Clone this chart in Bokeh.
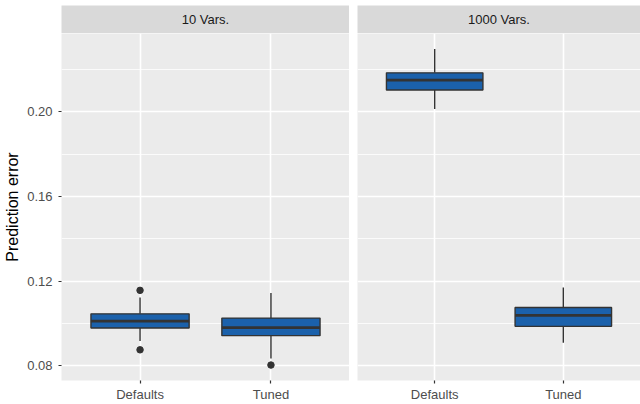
from bokeh.plotting import figure
from bokeh.models import FactorRange, Range1d, FixedTicker, PrintfTickFormatter, ColumnDataSource
from bokeh.transform import dodge
from bokeh.layouts import column, row
from bokeh.embed import file_html
from bokeh.resources import INLINE
from bokeh.core.properties import value

# ---------------- data ----------------
panels = ["10 Vars.", "1000 Vars."]
categories = ["Defaults", "Tuned"]

vars10_low = [0.0917, 0.0834]
vars10_q1 = [0.0978, 0.0942]
vars10_median = [0.1011, 0.0980]
vars10_q3 = [0.1045, 0.1025]
vars10_high = [0.1122, 0.1144]
vars10_out_cat = ["Defaults", "Defaults", "Tuned"]
vars10_out_val = [0.1156, 0.0875, 0.0803]

vars1000_low = [0.2013, 0.0909]
vars1000_q1 = [0.2103, 0.0986]
vars1000_median = [0.2150, 0.1038]
vars1000_q3 = [0.2184, 0.1075]
vars1000_high = [0.2297, 0.1169]
vars1000_out_cat = []
vars1000_out_val = []

y_ticks = [0.08, 0.12, 0.16, 0.20]
y_minor = [0.10, 0.14, 0.18, 0.22]

# ---------------- style ----------------
FONT = "Liberation Sans"
PANEL_BG = "#EBEBEB"
STRIP_BG = "#D9D9D9"
BOX_FILL = "#1B61AB"
DARK = "#333333"
BOX_W = 0.75

y_range = Range1d(0.073, 0.237)

STRIP_TOP = 5
STRIP_H = 28
PLOT_AREA_H = 350
BOTTOM_B = 21


def make_panel(low, q1, med, q3, high, out_cat, out_val, left_border, panel_w, show_y):
    x_range = FactorRange(*categories, range_padding=0.1)
    p = figure(x_range=x_range, y_range=y_range, width=left_border + panel_w,
               height=PLOT_AREA_H + BOTTOM_B,
               output_backend="svg", toolbar_location=None,
               min_border_left=left_border, min_border_right=0,
               min_border_top=0, min_border_bottom=BOTTOM_B)
    p.background_fill_color = PANEL_BG
    p.border_fill_color = "white"
    p.outline_line_color = None

    src = ColumnDataSource(dict(cat=categories, low=low, q1=q1, med=med, q3=q3, high=high))
    # whiskers
    p.segment(x0="cat", x1="cat", y0="q3", y1="high", source=src, line_color=DARK, line_width=1.4)
    p.segment(x0="cat", x1="cat", y0="low", y1="q1", source=src, line_color=DARK, line_width=1.4)
    # boxes
    p.vbar(x="cat", width=BOX_W, bottom="q1", top="q3", source=src,
           fill_color=BOX_FILL, line_color=DARK, line_width=1.4)
    # medians
    p.segment(x0=dodge("cat", -BOX_W / 2, range=x_range), x1=dodge("cat", BOX_W / 2, range=x_range),
              y0="med", y1="med", source=src, line_color=DARK, line_width=2.8)
    # outliers
    if out_cat:
        osrc = ColumnDataSource(dict(cat=out_cat, val=out_val))
        p.scatter(x="cat", y="val", source=osrc, size=6.5, fill_color=DARK, line_color=DARK)

    # grids
    p.ygrid.ticker = FixedTicker(ticks=y_ticks, minor_ticks=y_minor)
    p.ygrid.grid_line_color = "white"
    p.ygrid.grid_line_width = 1.6
    p.ygrid.minor_grid_line_color = "white"
    p.ygrid.minor_grid_line_width = 0.8
    p.xgrid.grid_line_color = "white"
    p.xgrid.grid_line_width = 1.6

    # axes
    p.xaxis.axis_line_color = None
    p.xaxis.major_tick_line_color = DARK
    p.xaxis.major_tick_line_width = 1.2
    p.xaxis.major_tick_out = 3
    p.xaxis.major_tick_in = 0
    p.xaxis.minor_tick_line_color = None
    p.xaxis.major_label_text_font = FONT
    p.xaxis.major_label_text_font_size = "13px"
    p.xaxis.major_label_text_color = "#4D4D4D"
    p.xaxis.major_label_standoff = 3

    p.yaxis.ticker = FixedTicker(ticks=y_ticks, minor_ticks=y_minor)
    p.yaxis.formatter = PrintfTickFormatter(format="%.2f")
    if show_y:
        p.yaxis.axis_line_color = None
        p.yaxis.major_tick_line_color = DARK
        p.yaxis.major_tick_line_width = 1.2
        p.yaxis.major_tick_out = 3
        p.yaxis.major_tick_in = 0
        p.yaxis.minor_tick_line_color = None
        p.yaxis.major_label_text_font = FONT
        p.yaxis.major_label_text_font_size = "13px"
        p.yaxis.major_label_text_color = "#4D4D4D"
        p.yaxis.major_label_standoff = 5
        p.yaxis.axis_label = "Prediction error"
        p.yaxis.axis_label_text_font = FONT
        p.yaxis.axis_label_text_font_size = "16px"
        p.yaxis.axis_label_text_font_style = "normal"
        p.yaxis.axis_label_text_color = "black"
        p.yaxis.axis_label_standoff = 3
    else:
        p.yaxis.visible = False
    return p


def make_strip(label, left_border, panel_w):
    s = figure(x_range=Range1d(0, 1), y_range=Range1d(0, 1), width=left_border + panel_w,
               height=STRIP_TOP + STRIP_H,
               output_backend="svg", toolbar_location=None,
               min_border_left=left_border, min_border_right=0,
               min_border_top=STRIP_TOP, min_border_bottom=0)
    s.background_fill_color = STRIP_BG
    s.border_fill_color = "white"
    s.outline_line_color = None
    s.axis.visible = False
    s.grid.visible = False
    s.text(x=[0.5], y=[0.5], text=[label], text_align="center", text_baseline="middle",
           text_font=value(FONT), text_font_size="13px", text_color="#1A1A1A")
    return s


LEFT_B = 61
LEFT_W = 288
RIGHT_B = 8
RIGHT_W = 283

pl = make_panel(vars10_low, vars10_q1, vars10_median, vars10_q3, vars10_high,
                vars10_out_cat, vars10_out_val, LEFT_B, LEFT_W, True)
pr = make_panel(vars1000_low, vars1000_q1, vars1000_median, vars1000_q3, vars1000_high,
                vars1000_out_cat, vars1000_out_val, RIGHT_B, RIGHT_W, False)
sl = make_strip(panels[0], LEFT_B, LEFT_W)
sr = make_strip(panels[1], RIGHT_B, RIGHT_W)

layout = column(row(sl, sr), row(pl, pr))

open("out.html", "w").write(file_html(layout, INLINE))
